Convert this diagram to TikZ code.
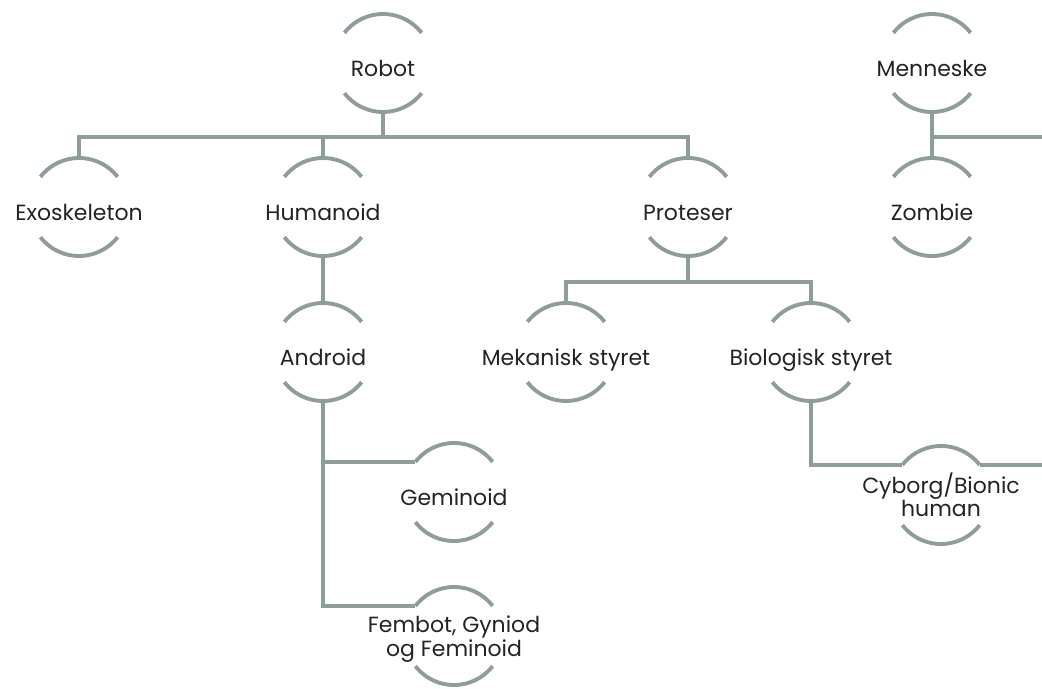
\documentclass[tikz,border=0pt]{standalone}
\usepackage{fontspec}
\setmainfont{Poppins}

\definecolor{linegray}{RGB}{143,157,153}
\definecolor{inkgray}{RGB}{35,35,35}
\newcommand{\lbl}[1]{\makebox[0pt]{\smash{\raisebox{-7.5pt}{#1}}}}
\newcommand{\lblii}[1]{\makebox[0pt]{\smash{\raisebox{-5pt}{\begin{tabular}{@{}c@{}}#1\end{tabular}}}}}

\tikzset{
  cat/.style={circle, minimum size=1.96cm, inner sep=0pt, outer sep=0pt,
    text=inkgray, font=\fontsize{12.5}{13}\selectfont},
  rim/.style={draw=linegray, line width=2.2pt},
  link/.style={draw=linegray, line width=2.2pt},
}

\begin{document}
\begin{tikzpicture}
    \useasboundingbox (0,0) rectangle (20.84,13.76);
    \coordinate (edge) at (20.84,0);

    % Top row
    \node[cat] (robot) at (7.66,12.5) {\lbl{Robot}};
    \node[cat] (menneske) at (18.64,12.5) {\lbl{Menneske}};

    % Second row
    \node[cat] (exo) at (1.58,9.62) {\lbl{Exoskeleton}};
    \node[cat] (humanoid) at (6.46,9.62) {\lbl{Humanoid}};
    \node[cat] (proteser) at (13.76,9.62) {\lbl{Proteser}};
    \node[cat] (zombie) at (18.64,9.62) {\lbl{Zombie}};

    % Third row
    \node[cat] (android) at (6.46,6.72) {\lbl{Android}};
    \node[cat] (mekanisk) at (11.32,6.72) {\lbl{Mekanisk styret}};
    \node[cat] (biologisk) at (16.22,6.72) {\lbl{Biologisk styret}};

    % Leaves
    \node[cat] (geminoid) at (9.08,3.92) {\lbl{Geminoid}};
    \node[cat] (fembot) at (9.08,1.04) {\lblii{Fembot, Gyniod\\og Feminoid}};
    \node[cat] (cyborg) at (18.82,3.86) {\lblii{Cyborg/Bionic\\human}};

    % Half rims above and below each label
    \foreach \n in {robot,menneske,exo,humanoid,proteser,zombie,android,mekanisk,biologisk,geminoid,fembot,cyborg} {
        \draw[rim] (\n.38) arc[start angle=38, end angle=142, radius=0.98];
        \draw[rim] (\n.218) arc[start angle=218, end angle=322, radius=0.98];
    }

    % Robot branch
    \draw[link] (robot.south) -- ++(0,-0.5) coordinate (rbar);
    \draw[link] (exo.north) |- (rbar) -| (proteser.north);
    \draw[link] (humanoid.north) -- (humanoid.north |- rbar);
    \draw[link] (humanoid.south) -- (android.north);

    % Proteser branch
    \draw[link] (proteser.south) -- ++(0,-0.52) coordinate (pbar);
    \draw[link] (mekanisk.north) |- (pbar) -| (biologisk.north);

    % Android branch
    \draw[link] (android.south) |- (fembot.142);
    \draw[link] (android.south |- geminoid.142) -- (geminoid.142);

    % Biologisk to cyborg
    \draw[link] (biologisk.south) |- (cyborg.142);
    \draw[link] (cyborg.38) -- (cyborg.38 -| edge);

    % Menneske branch
    \draw[link] (menneske.south) -- (zombie.north);
    \draw[link] (menneske.south |- rbar) -- (rbar -| edge);
\end{tikzpicture}
\end{document}
